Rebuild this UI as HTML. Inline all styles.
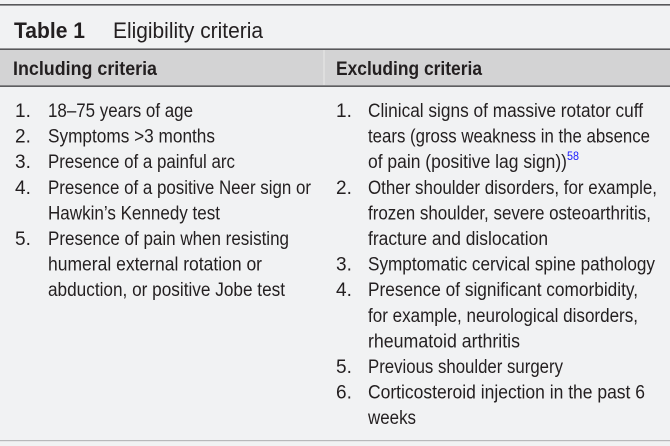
<!DOCTYPE html>
<html><head><meta charset="utf-8"><style>
html,body{margin:0;padding:0;background:#f1f2f3;}
svg{display:block;}
text{font-family:"Liberation Sans Narrow","Liberation Sans",sans-serif;fill:#231f20;}
</style></head><body>
<svg width="670" height="446" viewBox="0 0 670 446" xmlns="http://www.w3.org/2000/svg">
<rect x="0" y="0" width="670" height="446" fill="#f1f2f3"/>
<rect x="0" y="4" width="670" height="1.6" fill="#58585a"/>
<text x="14" y="38" font-size="22" font-weight="bold" textLength="71" lengthAdjust="spacingAndGlyphs">Table 1</text>
<text x="113" y="38" font-size="22" textLength="150" lengthAdjust="spacingAndGlyphs">Eligibility criteria</text>
<rect x="0" y="49" width="670" height="37" fill="#d3d3d4"/>
<rect x="0" y="48.5" width="670" height="1.3" fill="#3a3a3c"/>
<rect x="0" y="85.5" width="670" height="1.3" fill="#3a3a3c"/>
<rect x="323.5" y="50" width="1" height="35" fill="#e8e8e8"/>
<text x="13" y="75" font-size="19" font-weight="bold" textLength="144" lengthAdjust="spacingAndGlyphs">Including criteria</text>
<text x="336" y="75" font-size="19" font-weight="bold" textLength="146" lengthAdjust="spacingAndGlyphs">Excluding criteria</text>
<rect x="0" y="440" width="670" height="1.2" fill="#b8b8ba"/>
<g font-size="19">
<text x="15" y="117">1.</text><text x="48" y="117" textLength="145" lengthAdjust="spacingAndGlyphs">18–75 years of age</text>
<text x="15" y="142.6">2.</text><text x="48" y="142.6" textLength="167" lengthAdjust="spacingAndGlyphs">Symptoms &gt;3 months</text>
<text x="15" y="168.2">3.</text><text x="48" y="168.2" textLength="187" lengthAdjust="spacingAndGlyphs">Presence of a painful arc</text>
<text x="15" y="193.8">4.</text><text x="48" y="193.8" textLength="263" lengthAdjust="spacingAndGlyphs">Presence of a positive Neer sign or</text>
<text x="48" y="219.4" textLength="172" lengthAdjust="spacingAndGlyphs">Hawkin’s Kennedy test</text>
<text x="15" y="245">5.</text><text x="48" y="245" textLength="241" lengthAdjust="spacingAndGlyphs">Presence of pain when resisting</text>
<text x="48" y="270.6" textLength="214" lengthAdjust="spacingAndGlyphs">humeral external rotation or</text>
<text x="48" y="296.2" textLength="237" lengthAdjust="spacingAndGlyphs">abduction, or positive Jobe test</text>

<text x="336" y="117">1.</text><text x="368" y="117" textLength="275" lengthAdjust="spacingAndGlyphs">Clinical signs of massive rotator cuff</text>
<text x="368" y="142.6" textLength="282" lengthAdjust="spacingAndGlyphs">tears (gross weakness in the absence</text>
<text x="368" y="168.2" textLength="199" lengthAdjust="spacingAndGlyphs">of pain (positive lag sign))</text>
<text x="567" y="160" font-size="12" style="fill:#1a1aff" textLength="12" lengthAdjust="spacingAndGlyphs">58</text>
<text x="336" y="193.8">2.</text><text x="368" y="193.8" textLength="289" lengthAdjust="spacingAndGlyphs">Other shoulder disorders, for example,</text>
<text x="368" y="219.4" textLength="283" lengthAdjust="spacingAndGlyphs">frozen shoulder, severe osteoarthritis,</text>
<text x="368" y="245" textLength="180" lengthAdjust="spacingAndGlyphs">fracture and dislocation</text>
<text x="336" y="270.6">3.</text><text x="368" y="270.6" textLength="287" lengthAdjust="spacingAndGlyphs">Symptomatic cervical spine pathology</text>
<text x="336" y="296.2">4.</text><text x="368" y="296.2" textLength="270" lengthAdjust="spacingAndGlyphs">Presence of significant comorbidity,</text>
<text x="368" y="321.8" textLength="270" lengthAdjust="spacingAndGlyphs">for example, neurological disorders,</text>
<text x="368" y="347.4" textLength="152" lengthAdjust="spacingAndGlyphs">rheumatoid arthritis</text>
<text x="336" y="373">5.</text><text x="368" y="373" textLength="195" lengthAdjust="spacingAndGlyphs">Previous shoulder surgery</text>
<text x="336" y="398.6">6.</text><text x="368" y="398.6" textLength="277" lengthAdjust="spacingAndGlyphs">Corticosteroid injection in the past 6</text>
<text x="368" y="424.2" textLength="48" lengthAdjust="spacingAndGlyphs">weeks</text>
</g>
</svg>
</body></html>
